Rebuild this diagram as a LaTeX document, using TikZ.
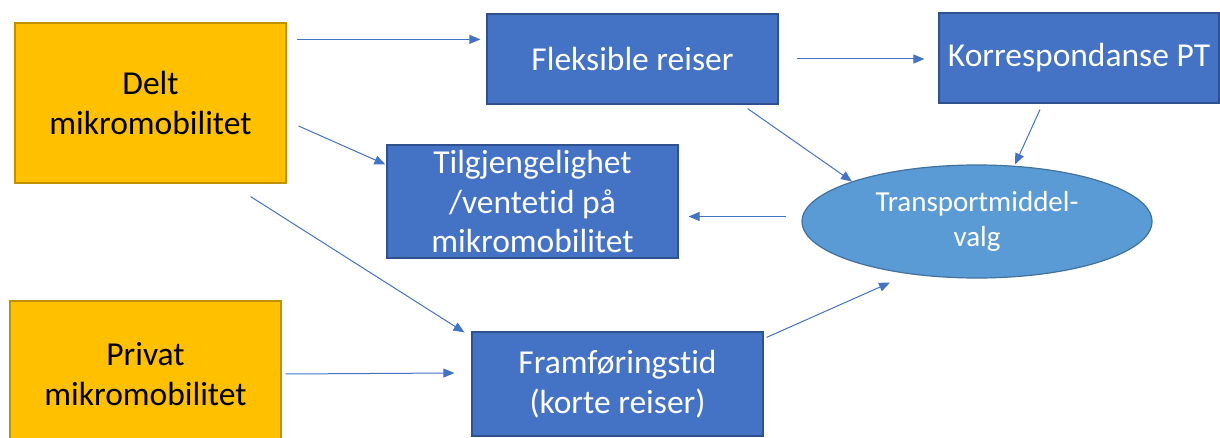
\documentclass[tikz,border=0pt]{standalone}
\usepackage{fontspec}
\setmainfont[Ligatures=NoCommon]{Carlito}
\usetikzlibrary{arrows.meta,calc,shapes.geometric}

\definecolor{srcfill}{HTML}{FFC000}
\definecolor{srcline}{HTML}{BF9000}
\definecolor{boxfill}{HTML}{4472C4}
\definecolor{boxline}{HTML}{2F528F}
\definecolor{ellfill}{HTML}{5B9BD5}
\definecolor{ellline}{HTML}{41719C}

\tikzset{
    src/.style={draw=srcline,fill=srcfill,line width=1.2pt,align=center,
        text=black,font=\fontsize{33.5}{39.5}\selectfont},
    factor/.style={draw=boxline,fill=boxfill,line width=1.2pt,align=center,
        text=white,font=\fontsize{33.5}{39.5}\selectfont},
    choice/.style={ellipse,draw=ellline,fill=ellfill,line width=1.2pt,align=center,
        inner sep=0pt,text=white,font=\fontsize{29}{35}\selectfont},
    link/.style={draw=boxfill,line width=1pt,-{Triangle[length=11pt,width=9pt]}}
}

\begin{document}
\begin{tikzpicture}[x=1pt,y=-1pt]
    \clip (0,0) rectangle (1220,438);
    \fill [white] (0,0) rectangle (1220,438);

    % kildene
    \node [src,minimum width=271pt,minimum height=160pt] (delt)   at (150.5,103) {Delt\\mikromobilitet};
    \node [src,minimum width=271pt,minimum height=146pt] (privat) at (145.5,374) {Privat\\mikromobilitet};

    % faktorene
    \node [factor,minimum width=291pt,minimum height=90pt]  (flex) at (632.5,59)  {Fleksible reiser};
    \node [factor,minimum width=280pt,minimum height=90pt]  (korr) at (1079,58)   {Korrespondanse PT};
    \node [factor,minimum width=291pt,minimum height=113pt] (tilg) at (532.5,201.5) {Tilgjengelighet\\/ventetid på\\mikromobilitet};
    \node [factor,minimum width=291pt,minimum height=104pt] (fram) at (617.5,384) {Framføringstid\\(korte reiser)};

    \node [choice,minimum width=350pt,minimum height=113pt] (valg) at (977,221.5) {Transportmiddel-\\valg};

    % pilene
    \draw [link] ($(delt.north east)+(10,17)$)  -- ($(flex.north west)+(-6,26)$);
    \draw [link] ($(flex.east)+(18,0)$)         -- ($(korr.west)+(-14,1)$);
    \draw [link] ($(delt.east)+(12,23)$)        -- ($(tilg.west)+(-1,-37)$);
    \draw [link] ($(delt.south east)+(-36,13)$) -- ($(fram.north west)+(-7,1)$);
    \draw [link] ($(privat.east)+(4,0)$)        -- ($(fram.west)+(-17,-11)$);
    \draw [link] ($(flex.south east)+(-31,4)$)  -- ($(valg.center)+(-125,-40)$);
    \draw [link] ($(korr.south)+(-39,6)$)       -- ($(valg.north)+(38,0)$);
    \draw [link] ($(valg.west)+(-15,-5)$)       -- ($(tilg.east)+(10,15)$);
    \draw [link] ($(fram.north east)+(3,6)$)    -- ($(valg.south)+(-87,4)$);

\end{tikzpicture}
\end{document}
